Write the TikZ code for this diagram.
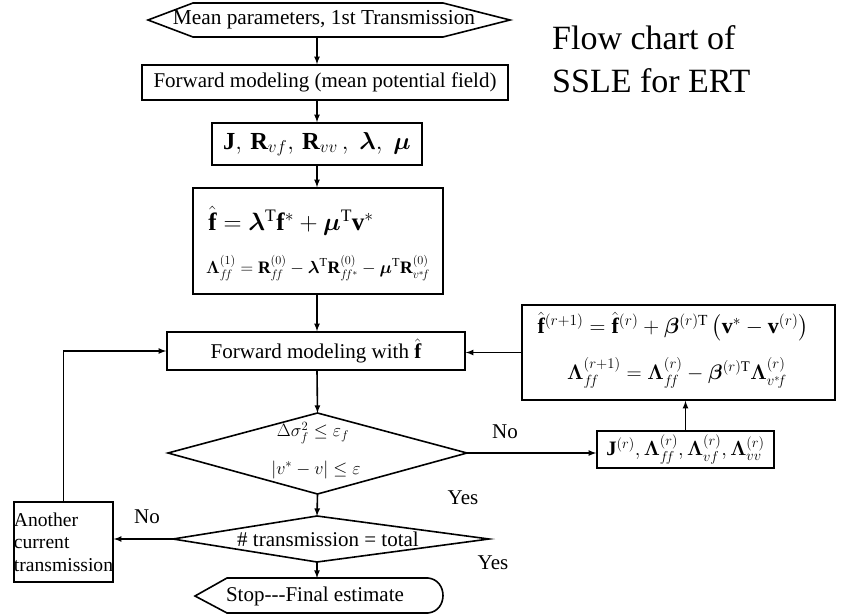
\RequirePackage{fix-cm}
\documentclass[tikz,border=0pt]{standalone}
\usepackage{amsmath}
\usepackage{amssymb}
\usepackage{bm}
\usepackage{fontspec}
\setmainfont{Liberation Serif}
\usepackage{tikz}
\usetikzlibrary{positioning}

\tikzset{
  box/.style={draw=black, line width=1.6pt, rectangle, inner sep=0pt},
  plain/.style={inner sep=0pt, font=\fontsize{21}{24}\selectfont},
  arr/.style={draw=black, line width=1.6pt, -latex},
  edge/.style={draw=black, line width=1.6pt, line join=miter},
}

\begin{document}
\begin{tikzpicture}[x=1pt, y=-1pt]
            \useasboundingbox (0,0) rectangle (841,616);
            % title
            \node[inner sep=0pt, anchor=base west, font=\fontsize{34}{40}\selectfont] (title1) at (552,49) {Flow chart of};
            \node[inner sep=0pt, anchor=base west, font=\fontsize{34}{40}\selectfont] (title2) at (552,92) {SSLE for ERT};
            % start
            \node[plain, font=\fontsize{21.3}{24}\selectfont] (start) at (324,20) {Mean parameters, 1st Transmission};
            \draw[edge] (148,20) -- (193,3) -- (443,3) -- (510,20) -- (443,37) -- (193,37) -- cycle;
            \coordinate (hs) at (317,37);
            \node[box, plain, minimum width=366pt, minimum height=35pt] (fwd0) at (325,82.5) {Forward modeling (mean potential field)};
            \node[box, minimum width=210pt, minimum height=42pt, font=\fontsize{24.5}{28}\selectfont] (coef) at (317,144) {$\mathbf{J},\,\mathbf{R}_{vf},\,\mathbf{R}_{vv}\,,\;\boldsymbol{\lambda},\;\boldsymbol{\mu}$};
            \node[box, minimum width=250pt, minimum height=106pt] (init) at (318,241) {};
            \node[inner sep=0pt, font=\fontsize{25}{28}\selectfont] (eqf) at (291,221) {$\hat{\mathbf{f}} = \boldsymbol{\lambda}^{\mathrm{T}}\mathbf{f}^{*} + \boldsymbol{\mu}^{\mathrm{T}}\mathbf{v}^{*}$};
            \node[inner sep=0pt, font=\fontsize{17.5}{20}\selectfont] (eqlam) at (318,268) {$\boldsymbol{\Lambda}_{f\!f}^{(1)} = \mathbf{R}_{f\!f}^{(0)} - \boldsymbol{\lambda}^{\mathrm{T}}\mathbf{R}_{f\!f^{*}}^{(0)} - \boldsymbol{\mu}^{\mathrm{T}}\mathbf{R}_{v^{*}\!f}^{(0)}$};
            \node[box, plain, minimum width=298pt, minimum height=38pt] (fwd) at (316,351) {Forward modeling with $\hat{\mathbf{f}}$};
            % first check
            \coordinate (d1n) at (317.5,413);
            \coordinate (d1w) at (168,453);
            \coordinate (d1e) at (467,453);
            \coordinate (d1s) at (317.5,494);
            \draw[edge] (d1n) -- (d1e) -- (d1s) -- (d1w) -- cycle;
            \node[inner sep=0pt, font=\fontsize{18}{22}\selectfont] (tol1) at (313,433) {$\Delta\sigma_f^2 \le \varepsilon_f$};
            \node[inner sep=0pt, font=\fontsize{18}{22}\selectfont] (tol2) at (316,470) {$\left|v^{*} - v\right| \le \varepsilon$};
            % second check
            \coordinate (d2n) at (317,516);
            \coordinate (d2w) at (173,539);
            \coordinate (d2e) at (489,539);
            \coordinate (d2s) at (317,562);
            \draw[edge] (d2n) -- (d2e) -- (d2s) -- (d2w) -- cycle;
            \node[plain] (count) at (328,539) {\# transmission = total};
            % stop
            \coordinate (sn) at (317,578);
            \draw[edge] (195,596) -- (227,578) -- (428,578) .. controls (448,580) and (448,611) .. (428,613) -- (227,613) -- cycle;
            \node[plain] (stop) at (315,596) {Stop-{}-{}-Final estimate};
            % left and right
            \node[box, minimum width=99pt, minimum height=80pt, align=left, font=\fontsize{19.6}{22.5}\selectfont] (other) at (63.5,542) {Another\\current\\transmission};
            \node[box, minimum width=177pt, minimum height=37pt, font=\fontsize{20.5}{22}\selectfont] (jr) at (685.5,449.5) {$\mathbf{J}^{(r)},\boldsymbol{\Lambda}_{f\!f}^{(r)},\boldsymbol{\Lambda}_{vf}^{(r)},\boldsymbol{\Lambda}_{vv}^{(r)}$};
            \node[box, minimum width=313pt, minimum height=95pt] (upd) at (678.5,352.5) {};
            \node[inner sep=0pt, font=\fontsize{22}{24}\selectfont] (eqfr) at (673,327) {$\hat{\mathbf{f}}^{(r+1)} = \hat{\mathbf{f}}^{(r)} + \boldsymbol{\beta}^{(r)\mathrm{T}}\left(\mathbf{v}^{*} - \mathbf{v}^{(r)}\right)$};
            \node[inner sep=0pt, font=\fontsize{21}{22}\selectfont] (eqlr) at (677,373) {$\boldsymbol{\Lambda}_{f\!f}^{(r+1)} = \boldsymbol{\Lambda}_{f\!f}^{(r)} - \boldsymbol{\beta}^{(r)\mathrm{T}}\boldsymbol{\Lambda}_{v^{*}\!f}^{(r)}$};
            % arrows
            \draw[arr] (hs) -- (hs |- fwd0.north);
            \draw[arr] (hs |- fwd0.south) -- (coef.north);
            \draw[arr] (coef.south) -- (coef.south |- init.north);
            \draw[arr] (coef.south |- init.south) -- (coef.south |- fwd.north);
            \draw[arr] (coef.south |- fwd.south) -- (d1n);
            \draw[arr] (d1s) -- (d2n);
            \draw[arr] (d2s) -- (sn);
            \draw[arr] (d1e) -- (d1e -| jr.west);
            \draw[arr] (jr.north) -- (jr.north |- upd.south);
            \draw[arr] (upd.west) -- (upd.west -| fwd.east);
            \draw[arr] (d2w) -- (d2w -| other.east);
            \draw[arr] (other.north) |- (fwd.west);
            % labels
            \node[plain] (no1) at (505,432) {No};
            \node[plain] (yes1) at (463,498) {Yes};
            \node[plain] (no2) at (147,517) {No};
            \node[plain] (yes2) at (493,563) {Yes};
        \end{tikzpicture}
\end{document}
